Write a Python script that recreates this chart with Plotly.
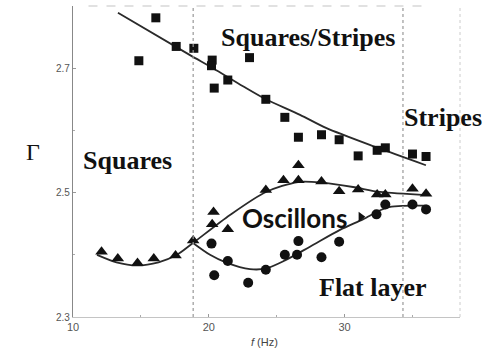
import plotly.graph_objects as go

# ---- data ----
squares_f = [14.85, 16.1, 17.6, 18.9, 20.25, 20.2, 20.4, 21.4, 23.0, 24.2, 25.6, 26.6,
             28.3, 29.6, 31.0, 32.4, 33.0, 35.0, 36.0]
squares_G = [2.712, 2.781, 2.735, 2.732, 2.713, 2.704, 2.668, 2.681, 2.717, 2.650, 2.621, 2.589,
             2.593, 2.585, 2.559, 2.568, 2.572, 2.562, 2.558]

tri_f = [12.1, 13.3, 14.75, 15.95, 17.55, 18.85, 20.25, 20.35, 21.4, 24.2, 25.5, 26.6,
         26.6, 28.3, 29.6, 31.0, 32.4, 33.0, 35.0, 36.0]
tri_G = [2.405, 2.394, 2.387, 2.394, 2.399, 2.423, 2.449, 2.469, 2.441, 2.504, 2.520, 2.520,
         2.544, 2.518, 2.502, 2.505, 2.497, 2.497, 2.506, 2.498]

circ_f = [20.2, 20.4, 21.4, 22.9, 24.2, 25.6, 26.5, 26.6, 28.3, 29.6, 32.35, 33.0, 35.0, 36.0]
circ_G = [2.418, 2.367, 2.390, 2.355, 2.376, 2.400, 2.400, 2.422, 2.396, 2.421, 2.465, 2.481,
          2.481, 2.473]

odd_f = [31.2]
odd_G = [2.461]

# fitted boundary curves (sample points)
sq_fit_f = [13.31, 18.62, 20.31, 22.52, 24.21, 26.72, 28.63, 32.31, 35.99]
sq_fit_G = [2.789, 2.721, 2.700, 2.671, 2.650, 2.625, 2.604, 2.573, 2.544]

tri_fit_f = [11.77, 13.2, 14.71, 16.3, 17.66, 18.84, 21.56, 24.21, 26.57, 28.34, 30.62, 32.61, 36.07]
tri_fit_G = [2.400, 2.388, 2.383, 2.388, 2.400, 2.419, 2.464, 2.501, 2.517, 2.516, 2.509, 2.501, 2.496]

circ_fit_f = [18.84, 20.09, 21.34, 23.03, 24.21, 25.61, 27.45, 29.66, 31.35, 33.12, 36.07]
circ_fit_G = [2.419, 2.400, 2.387, 2.377, 2.378, 2.391, 2.413, 2.440, 2.457, 2.476, 2.479]

boundary_f = [18.85, 34.3]

x_ticks = [10, 20, 30]
y_ticks = [2.3, 2.5, 2.7]
y_tick_text = ["2.3", "2.5", "2.7"]

region_labels = ["Squares/Stripes", "Stripes", "Squares", "Flat layer"]
region_f = [27.3, 37.25, 14.05, 32.09]
region_G = [2.750, 2.6215, 2.551, 2.348]
osc_label = "Oscillons"
osc_f = 26.3
osc_G = 2.459

fig = go.Figure()

line_style = dict(color="#2a2a2a", width=1.8, shape="spline", smoothing=0.8)
for fx, fy in [(sq_fit_f, sq_fit_G), (tri_fit_f, tri_fit_G), (circ_fit_f, circ_fit_G)]:
    fig.add_trace(go.Scatter(x=fx, y=fy, mode="lines", line=line_style,
                             hoverinfo="skip", showlegend=False))

fig.add_trace(go.Scatter(x=squares_f, y=squares_G, mode="markers",
                         marker=dict(symbol="square", size=9, color="#111"), showlegend=False))
fig.add_trace(go.Scatter(x=tri_f, y=tri_G, mode="markers",
                         marker=dict(symbol="triangle-up", size=11, color="#111"), showlegend=False))
fig.add_trace(go.Scatter(x=circ_f, y=circ_G, mode="markers",
                         marker=dict(symbol="circle", size=10, color="#111"), showlegend=False))
fig.add_trace(go.Scatter(x=odd_f, y=odd_G, mode="markers",
                         marker=dict(symbol="triangle-right", size=9, color="#111"), showlegend=False))

shapes = []
for bf in boundary_f:
    shapes.append(dict(type="line", xref="x", yref="paper", x0=bf, x1=bf, y0=0, y1=1,
                       line=dict(color="#999", width=1.2, dash="dot")))
# frame: top dashed, right dotted
shapes.append(dict(type="line", xref="paper", yref="paper", x0=0.04, x1=0.92, y0=1, y1=1,
                   line=dict(color="#c4c4c4", width=1.2, dash="dash")))
shapes.append(dict(type="line", xref="paper", yref="paper", x0=1, x1=1, y0=0, y1=1,
                   line=dict(color="#ccc", width=1, dash="dot")))

annotations = []
serif = "Liberation Serif"
for t, fx, gy in zip(region_labels, region_f, region_G):
    annotations.append(dict(x=fx, y=gy, xref="x", yref="y", text="<b>%s</b>" % t,
                            showarrow=False, font=dict(family=serif, size=26, color="#111")))
annotations.append(dict(x=osc_f, y=osc_G, xref="x", yref="y", text="<b>%s</b>" % osc_label,
                        showarrow=False, font=dict(family="Lato", size=26, color="#111")))
annotations.append(dict(x=-0.127, y=0.53, xref="paper", yref="paper", text="Γ",
                        showarrow=False, font=dict(family=serif, size=24, color="#111")))
annotations.append(dict(x=0.496, y=-0.106, xref="paper", yref="paper", text="<i>f</i> (Hz)",
                        showarrow=False, font=dict(family="Liberation Sans", size=11, color="#444")))

fig.update_layout(
    width=486, height=359,
    margin=dict(l=73, r=26, t=6, b=42),
    plot_bgcolor="white", paper_bgcolor="white",
    shapes=shapes, annotations=annotations,
    xaxis=dict(range=[10, 38.5], showgrid=False, zeroline=False,
               showline=True, linecolor="#c4c4c4", linewidth=1.2,
               tickvals=x_ticks, ticks="inside", ticklen=3, tickcolor="#999",
               tickfont=dict(family="Liberation Sans", size=11, color="#555"),
               minor=dict(tickvals=[15, 25, 35], ticks="inside", ticklen=2, tickcolor="#aaa")),
    yaxis=dict(range=[2.3, 2.8], showgrid=False, zeroline=False,
               showline=True, linecolor="#888", linewidth=1.2,
               tickvals=y_ticks, ticktext=y_tick_text, ticks="inside", ticklen=3, tickcolor="#999",
               tickfont=dict(family="Liberation Sans", size=10, color="#555"),
               minor=dict(tickvals=[2.4, 2.6], ticks="inside", ticklen=2, tickcolor="#aaa")),
)

fig.write_html("out.html")
